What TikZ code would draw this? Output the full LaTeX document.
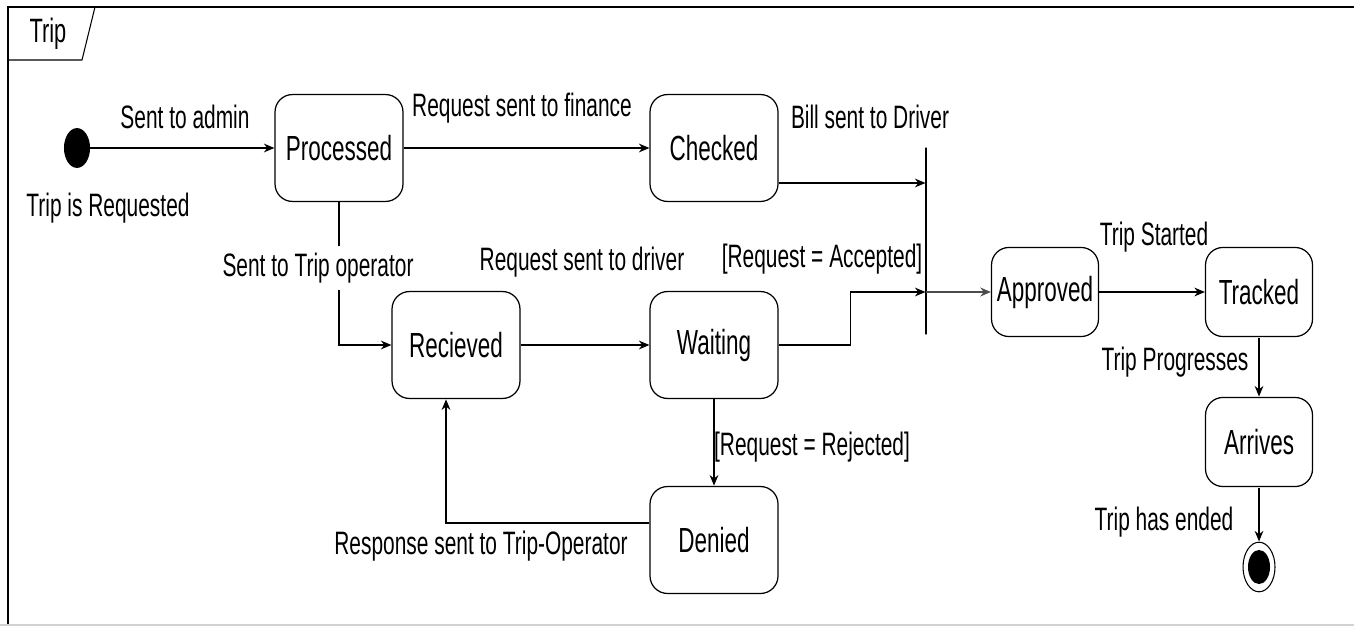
\documentclass[tikz,border=0pt]{standalone}
\usepackage{fontspec}
\setmainfont{Liberation Sans}
\usetikzlibrary{arrows.meta}
\tikzset{
  state/.style={draw, line width=0.7pt, rounded corners=0.35cm, inner sep=0pt,
    minimum width=2.56cm, minimum height=1.38cm, yscale=1.55,
    font=\fontsize{12.8}{14}\selectfont},
  smallstate/.style={state, minimum width=2.14cm, minimum height=1.15cm},
  lbl/.style={inner sep=1pt, yscale=1.55, font=\fontsize{11.9}{13}\selectfont},
}
\begin{document}
\begin{tikzpicture}[x=0.02cm, y=-0.02cm, >={Stealth[length=6pt,width=5pt]}, line width=0.6pt]
            \useasboundingbox (0,0) rectangle (1354,628);
            % frame and tab
            \draw (1354,7) -- (8,7) -- (8,625);
            \draw[gray!35] (0,625) -- (1354,625);
            \draw (8,60) -- (82,60) -- (95,7);
            \node[lbl, font=\fontsize{12.4}{14}\selectfont] (title) at (48,34) {Trip};
            % states
            \node[draw, fill, circle, inner sep=0pt, minimum size=0.5cm, yscale=1.55] (start) at (77,148) {};
            \node[state] (proc) at (339,148) {Processed};
            \node[state] (chk) at (714,148) {Checked};
            \node[state] (recv) at (456,345) {Recieved};
            \node[state] (wait) at (714,345) {Waiting};
            \node[state] (deny) at (714,540) {Denied};
            \node[draw, inner sep=0pt, minimum width=0pt, minimum height=3.74cm] (bar) at (926,241) {};
            \node[smallstate] (appr) at (1045,292) {Approved};
            \node[smallstate] (track) at (1259,292) {Tracked};
            \node[smallstate] (arr) at (1259,442) {Arrives};
            \node[draw, circle, inner sep=0pt, minimum size=0.64cm, yscale=1.55] (stop) at (1259,567) {};
            \node[fill, circle, inner sep=0pt, minimum size=0.44cm, yscale=1.55] (stopdot) at (stop) {};
            % transitions
            \draw[->] (start) -- (proc);
            \draw[->] (proc) -- (chk);
            \draw[->] ([yshift=-0.7cm]chk.east) -- ([yshift=-0.7cm]chk.east -| bar.west);
            \draw[->] (proc) |- (recv);
            \draw[->] (recv) -- (wait);
            \draw[->] (wait.east) -- ++(72,0) |- (bar.west |- appr.west);
            \draw[->, line width=1pt, gray!60!black] (bar |- appr.west) -- (appr);
            \draw[->] (appr) -- (track);
            \draw[->] (track) -- (arr);
            \draw[->] (arr) -- (stop);
            \draw[->] (wait) -- (deny);
            \draw[->] ([yshift=0.34cm]deny.west) -| ([xshift=-0.2cm]recv.south);
            % labels
            \node[lbl] at (185,117) {Sent to admin};
            \node[lbl] at (108,208) {Trip is Requested};
            \node[lbl] at (522,108) {Request sent to finance};
            \node[lbl] at (870,117) {Bill sent to Driver};
            \node[lbl, fill=white, inner ysep=2.5pt] at (318,268) {Sent to Trip operator};
            \node[lbl] at (582,262) {Request sent to driver};
            \node[lbl] at (822,259) {[Request = Accepted]};
            \node[lbl] at (1154,237) {Trip Started};
            \node[lbl] at (1175,362) {Trip Progresses};
            \node[lbl] at (812,447) {[Request = Rejected]};
            \node[lbl] at (481,546) {Response sent to Trip-Operator};
            \node[lbl] at (1164,522) {Trip has ended};
        \end{tikzpicture}
\end{document}
